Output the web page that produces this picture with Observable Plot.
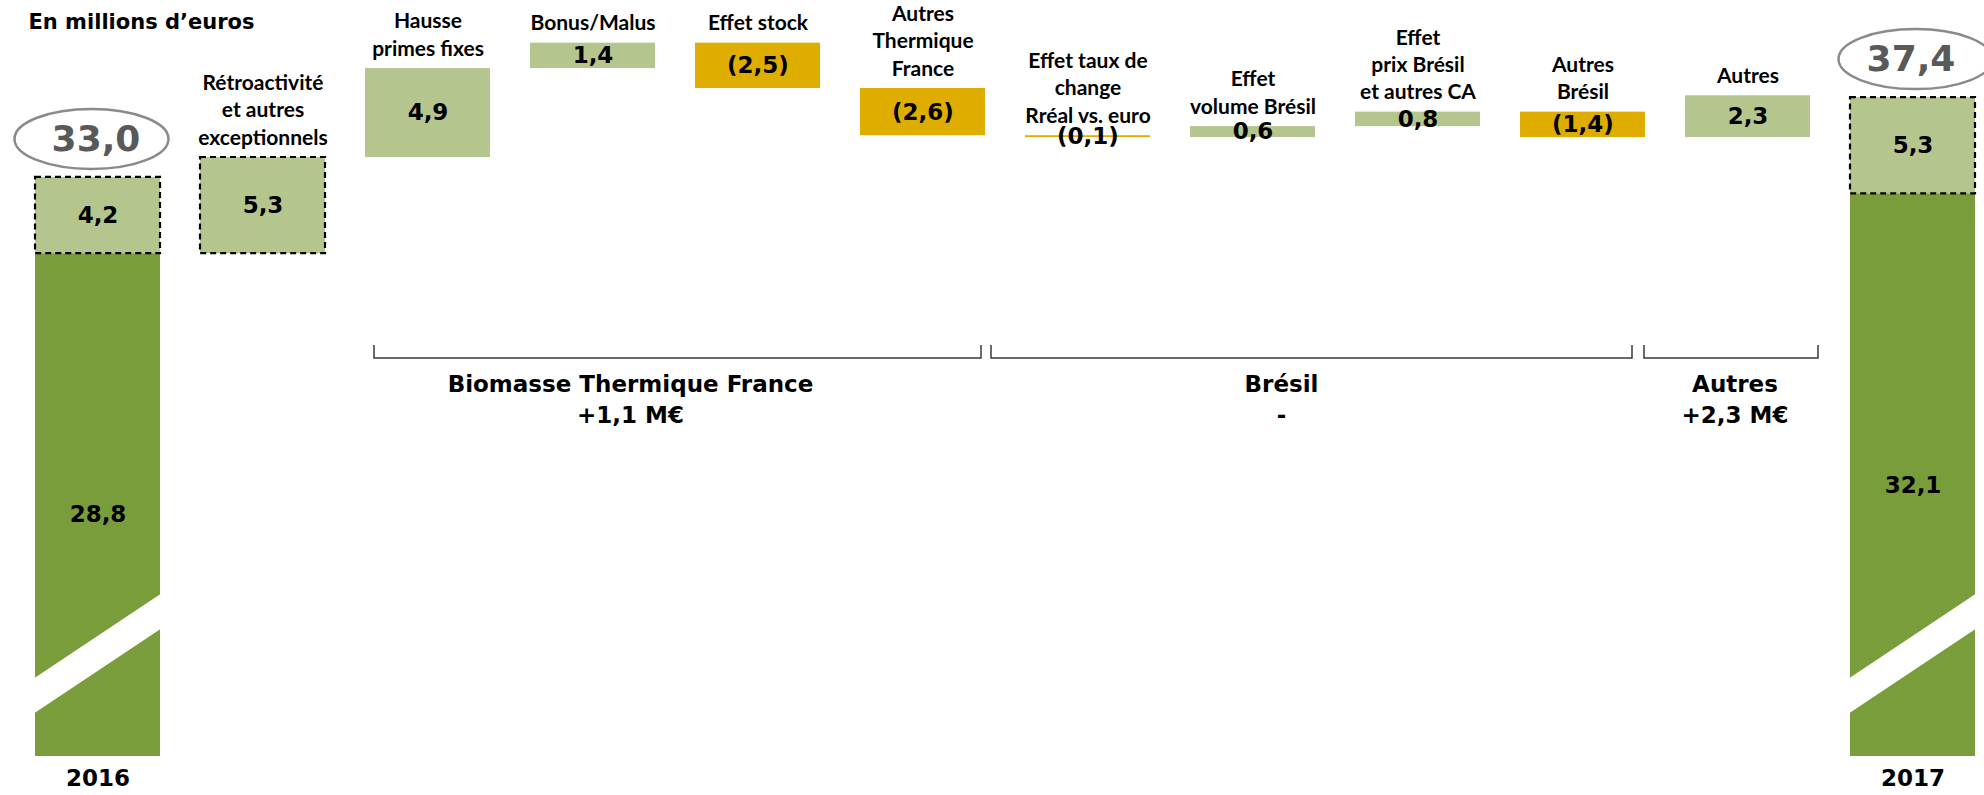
<!DOCTYPE html>
<html>
<head>
<meta charset="utf-8">
<script src="https://cdn.jsdelivr.net/npm/d3@7"></script>
<script src="https://cdn.jsdelivr.net/npm/@observablehq/plot@0.6"></script>
<style>
  body { margin: 0; background: #fff; }
  #chart svg { display: block; }
</style>
</head>
<body>
<div id="chart"></div>
<script>
// ---- Data (M€) ----
const years = ["2016", "2017"];
const baseValues = [28.8, 32.1];          // recurring part of each total
const exceptionalValues = [4.2, 5.3];     // exceptional part (dashed)
const totalValues = [33.0, 37.4];

const retroLabel = "Rétroactivité\net autres\nexceptionnels";
const retroValue = 5.3;

const stepLabels = [
  "Hausse\nprimes fixes",
  "Bonus/Malus",
  "Effet stock",
  "Autres\nThermique\nFrance",
  "Effet taux de\nchange\nRréal vs. euro",
  "Effet\nvolume Brésil",
  "Effet\nprix Brésil\net autres CA",
  "Autres\nBrésil",
  "Autres"
];
const stepValues = [4.9, 1.4, -2.5, -2.6, -0.1, 0.6, 0.8, -1.4, 2.3];

const groupNames = ["Biomasse Thermique France", "Brésil", "Autres"];
const groupTotals = ["+1,1 M€", "-", "+2,3 M€"];
const groupFirst = [0, 4, 8];   // index into stepLabels
const groupLast = [3, 7, 8];

const title = "En millions d’euros";

// ---- Styling ----
const DARK = "#7a9d3c";
const LIGHT = "#b5c58e";
const GOLD = "#dead00";
const NUM_FONT = "'DejaVu Sans', Verdana, sans-serif";
const LABEL_FONT = "Lato, 'Open Sans', sans-serif";

// bracket layout: pixel trims at each end, and label shift
const bracketTrim = [[9, -4], [-34, -13], [-41, 8]];
const bracketLabelShift = [-47, -30, 4];
// horizontal nudge of each total's oval
const ovalShift = [-6, 3];

// ---- Derived tables ----
const fmt = v => {
  const s = d3.format(".1f")(Math.abs(v)).replace(".", ",");
  return v < 0 ? `(${s})` : s;
};

const domain = [years[0], retroLabel, ...stepLabels, years[1]];

const totals = years.map((year, i) => ({
  key: year,
  base: baseValues[i],
  exceptional: exceptionalValues[i],
  top: baseValues[i] + exceptionalValues[i],
  total: totalValues[i]
}));

const retro = [{key: retroLabel, start: baseValues[0], end: baseValues[0] + retroValue, value: retroValue}];

let level = baseValues[0] + retroValue;
const steps = stepLabels.map((label, i) => {
  const start = level;
  level += stepValues[i];
  return {key: label, start, end: level, value: stepValues[i]};
});

const labelled = [...retro, ...steps];

// decorations: axis breaks on the totals, total ovals, group brackets
function decorations(index, scales, values, dimensions) {
  const x = scales.x, y = scales.y;
  const bw = typeof x.bandwidth === "function" ? x.bandwidth() : x.bandwidth;
  const bottom = dimensions.height - dimensions.marginBottom;
  const g = d3.create("svg:g");

  // white slanted breaks across the two total bars
  for (const t of totals) {
    const x0 = x(t.key) - 2, x1 = x(t.key) + bw + 2;
    g.append("path")
      .attr("d", `M${x0},${bottom - 77}L${x1},${bottom - 163}L${x1},${bottom - 128}L${x0},${bottom - 42}Z`)
      .attr("fill", "#fff");
  }

  // ovals around the totals
  totals.forEach((t, i) => {
    g.append("ellipse")
      .attr("cx", x(t.key) + bw / 2 + ovalShift[i])
      .attr("cy", y(t.total) - 38)
      .attr("rx", 77)
      .attr("ry", 30)
      .attr("fill", "none")
      .attr("stroke", "#8a8a8a")
      .attr("stroke-width", 2.5);
  });

  // group brackets and their labels
  const yLine = 358, yTick = 345;
  groupNames.forEach((name, i) => {
    const xa = x(stepLabels[groupFirst[i]]) + bracketTrim[i][0];
    const xb = x(stepLabels[groupLast[i]]) + bw + bracketTrim[i][1];
    g.append("path")
      .attr("d", `M${xa},${yTick}L${xa},${yLine}L${xb},${yLine}L${xb},${yTick}`)
      .attr("fill", "none")
      .attr("stroke", "#3a3a3a")
      .attr("stroke-width", 1.5);
    const cx = (xa + xb) / 2 + bracketLabelShift[i];
    const text = g.append("text")
      .attr("text-anchor", "middle")
      .attr("font-family", NUM_FONT)
      .attr("font-weight", "bold")
      .attr("font-size", 23)
      .attr("fill", "#000");
    text.append("tspan").attr("x", cx).attr("y", 392).text(name);
    text.append("tspan").attr("x", cx).attr("y", 423).text(groupTotals[i]);
  });
  return g.node();
}

const chart = Plot.plot({
  width: 1984,
  height: 795,
  marginTop: 0,
  marginBottom: 39,
  marginLeft: 31,
  marginRight: 5,
  style: {background: "#fff", fontFamily: NUM_FONT},
  x: {type: "band", domain, paddingInner: 0.24, paddingOuter: 0, axis: null},
  y: {domain: [1.1, 42.75], axis: null},
  marks: [
    // recurring part of the totals (broken bars)
    Plot.barY(totals, {x: "key", y1: 0, y2: "base", fill: DARK, clip: true}),
    decorations,
    // exceptional parts (dashed outline)
    Plot.barY([...totals.map(t => ({key: t.key, start: t.base, end: t.top})), ...retro], {
      x: "key", y1: "start", y2: "end", fill: LIGHT,
      stroke: "#000", strokeWidth: 2.2, strokeDasharray: "6,4"
    }),
    // variation bars
    Plot.barY(steps, {
      x: "key", y1: "start", y2: "end",
      fill: d => d.value < 0 ? GOLD : LIGHT
    }),
    // values inside the bars
    Plot.text(totals, {
      x: "key", y: d => (d.base + d.top) / 2, text: d => fmt(d.exceptional),
      fontFamily: NUM_FONT, fontWeight: "bold", fontSize: 23, fill: "#000"
    }),
    Plot.text(totals, {
      x: "key", y: d => d.base / 2, text: d => fmt(d.base),
      fontFamily: NUM_FONT, fontWeight: "bold", fontSize: 23, fill: "#000"
    }),
    Plot.text(labelled, {
      x: "key", y: d => (d.start + d.end) / 2, text: d => fmt(d.value),
      fontFamily: NUM_FONT, fontWeight: "bold", fontSize: 23, fill: "#000"
    }),
    // category labels above bars
    Plot.text(labelled, {
      x: "key", y: d => Math.max(d.start, d.end), text: "key",
      lineAnchor: "bottom", dy: -13, lineHeight: 1.3,
      fontFamily: LABEL_FONT, fontWeight: "bold", fontSize: 21, fill: "#000"
    }),
    // totals in ovals
    Plot.text(totals, {
      x: "key", y: "total", dy: -38, dx: -2, text: d => fmt(d.total),
      fontFamily: NUM_FONT, fontWeight: "bold", fontSize: 36, fill: "#595959"
    }),
    // year labels
    Plot.text(totals, {
      x: "key", frameAnchor: "bottom", dy: 29, text: "key",
      fontFamily: NUM_FONT, fontWeight: "bold", fontSize: 23, fill: "#000"
    }),
    // unit title
    Plot.text([title], {
      frameAnchor: "top-left", dx: -3, dy: 14, text: d => d, textAnchor: "start",
      fontFamily: NUM_FONT, fontWeight: "bold", fontSize: 21, fill: "#000"
    })
  ]
});

document.getElementById("chart").append(chart);
</script>
</body>
</html>
